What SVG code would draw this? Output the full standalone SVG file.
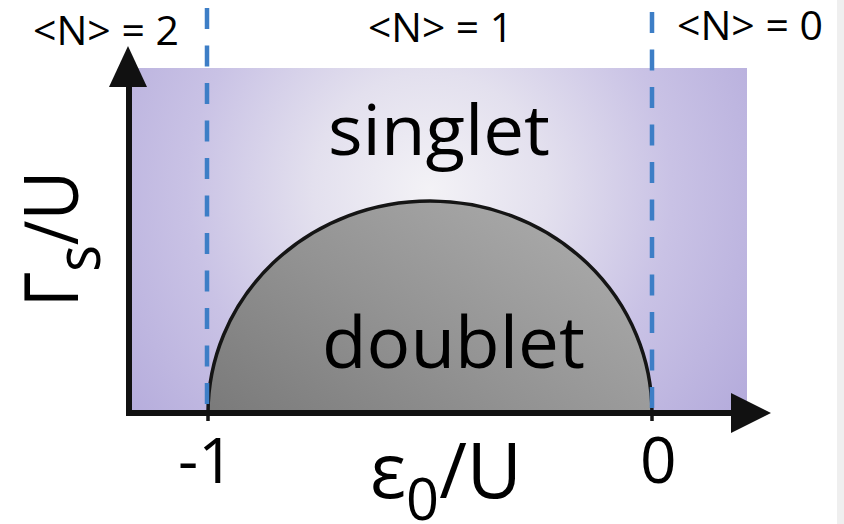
<svg xmlns="http://www.w3.org/2000/svg" width="844" height="524" viewBox="0 0 844 524">
  <style>
    .lbl { font-family: "Open Sans", "Noto Sans", "DejaVu Sans", sans-serif; fill: #000; }
    .dash { stroke: #3d7ec6; stroke-width: 4.5; stroke-dasharray: 21 16.5; fill: none; }
    .axis { stroke: #111; stroke-width: 6; fill: none; }
    .head { fill: #111; }
  </style>
  <defs>
    <radialGradient id="purple" gradientUnits="userSpaceOnUse" cx="430" cy="190" r="390">
      <stop offset="0" stop-color="#f3f2f6"/>
      <stop offset="0.3" stop-color="#e3e0ee"/>
      <stop offset="0.62" stop-color="#c9c2e5"/>
      <stop offset="1" stop-color="#b3aadb"/>
    </radialGradient>
    <linearGradient id="gray" x1="0" y1="1" x2="1" y2="0.3">
      <stop offset="0" stop-color="#7a7a7a"/>
      <stop offset="0.5" stop-color="#939393"/>
      <stop offset="1" stop-color="#aaaaaa"/>
    </linearGradient>
  </defs>

  <rect x="0" y="0" width="844" height="524" fill="#ffffff"/>
  <rect x="837" y="0" width="7" height="524" fill="#efefef"/>

  <g id="singlet-region">
    <rect x="128" y="68" width="619" height="345" fill="url(#purple)"/>
    <text class="lbl" x="328" y="155" font-size="70" textLength="222" lengthAdjust="spacingAndGlyphs">singlet</text>
  </g>

  <g id="doublet-region">
    <path d="M208,413 A222,212 0 0 1 652,413 Z" fill="url(#gray)"/>
    <path d="M208,421 L208,413 A222,212 0 0 1 652,413 L652,421" fill="none" stroke="#151515" stroke-width="3.5"/>
    <text class="lbl" x="322" y="368" font-size="72" textLength="263" lengthAdjust="spacingAndGlyphs">doublet</text>
  </g>

  <g id="connectors">
    <line class="dash" x1="207" y1="8" x2="207" y2="410"/>
    <line class="dash" x1="652" y1="12" x2="652" y2="410"/>
    <line class="axis" x1="129" y1="416" x2="129" y2="84"/>
    <polygon class="head" points="128,46 109,87 147,87"/>
    <line class="axis" x1="126" y1="413" x2="734" y2="413"/>
    <polygon class="head" points="771,413 731,393 731,433"/>
  </g>

  <g id="n-labels">
    <text class="lbl" x="33" y="45" font-size="40" textLength="146" lengthAdjust="spacingAndGlyphs">&lt;N&gt; = 2</text>
    <text class="lbl" x="368" y="42" font-size="40" textLength="145" lengthAdjust="spacingAndGlyphs">&lt;N&gt; = 1</text>
    <text class="lbl" x="677" y="40" font-size="40" textLength="146" lengthAdjust="spacingAndGlyphs">&lt;N&gt; = 0</text>
  </g>

  <g id="y-label">
    <text class="lbl" transform="translate(78,307) rotate(-90)" font-size="75" textLength="136" lengthAdjust="spacingAndGlyphs">Γ<tspan font-size="62" dy="22">s</tspan><tspan dy="-22">/U</tspan></text>
  </g>

  <g id="x-labels">
    <text class="lbl" x="178" y="483" font-size="62" textLength="56" lengthAdjust="spacingAndGlyphs">-1</text>
    <text class="lbl" x="640" y="483" font-size="64">0</text>
    <text class="lbl" x="370" y="498" font-size="76" textLength="152" lengthAdjust="spacingAndGlyphs">ε<tspan font-size="58" dy="22">0</tspan><tspan dy="-22">/U</tspan></text>
  </g>
</svg>
